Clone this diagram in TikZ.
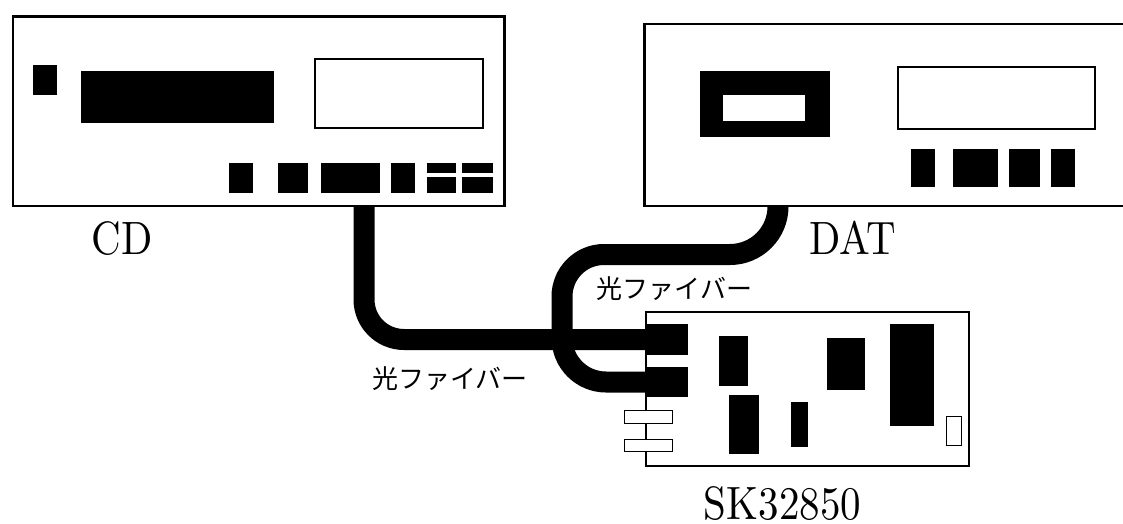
\documentclass[tikz,border=0pt]{standalone}
\usepackage{fontspec}
\newfontfamily\jpfont{Noto Sans CJK JP}
\newfontfamily\cmfont{lmroman10-regular.otf}
\begin{document}
\begin{tikzpicture}[x=1pt,y=-1pt,
  panel/.style={draw, line width=2.6pt, inner sep=0pt, outer sep=0pt, anchor=north west},
  board/.style={draw, line width=2pt, inner sep=0pt, outer sep=0pt, anchor=north west},
  plug/.style={fill=black, inner sep=0pt, outer sep=0pt, anchor=north west},
  cable/.style={line width=21pt, line cap=butt},
  window/.style={draw, line width=2pt},
  pad/.style={draw, fill=white, line width=1.5pt},
  devname/.style={inner sep=0pt, anchor=base, font=\cmfont\fontsize{41}{48}\selectfont},
  fibre/.style={inner sep=0pt, anchor=base, font=\jpfont\fontsize{26}{30}\selectfont}]
\useasboundingbox (0,0) rectangle (1123,524);
\clip (0,0) rectangle (1123,524);

% devices
\node[panel, minimum width=491.5pt, minimum height=189.5pt] (cd) at (13,16.3) {};
\node[panel, minimum width=500pt, minimum height=182pt] (dat) at (644.7,24) {};
\node[board, minimum width=323pt, minimum height=154pt] (sk) at (646,312) {};

% optical connectors on the board
\node[plug, minimum width=43pt, minimum height=31pt] (conA) at (645,324) {};
\node[plug, minimum width=43pt, minimum height=30pt] (conB) at (645,367) {};

% cable ports
\coordinate (cdport) at (364,206);
\coordinate (datport) at (778,206);

% fibre cables
\draw[cable, rounded corners=40pt] (cdport) |- (conA.west);
\draw[cable] (datport) [rounded corners=48pt] -- (778,254.5)
  [rounded corners=42pt] -- (562,254.5)
  [rounded corners=44pt] -- (562,382) -- (conB.west);

% CD front panel
\fill (33,65) rectangle (57,95);
\fill (81,71) rectangle (274,123);
\draw[window] (315,59) rectangle (483,128);
\fill (229,163) rectangle (253,193);
\fill (278,163) rectangle (308,193);
\fill (321,163) rectangle (380,193);
\fill (391,163) rectangle (415,193);
\fill (427,163) rectangle (456,173);
\fill (427,177) rectangle (456,193);
\fill (462,163) rectangle (493,173);
\fill (462,177) rectangle (493,193);

% DAT front panel
\fill (700,71) rectangle (830,137);
\fill[white] (723,95) rectangle (805,121);
\draw[window] (898,67) rectangle (1095,129);
\fill (911,149) rectangle (935,187);
\fill (953,149) rectangle (998,187);
\fill (1009,149) rectangle (1040,187);
\fill (1051,149) rectangle (1075,187);

% board components
\fill (719,336) rectangle (748,386);
\fill (729,395) rectangle (759,454);
\fill (791,402) rectangle (808,447);
\fill (827,338) rectangle (865,390);
\fill (890,324) rectangle (934,426);
\draw[line width=1.5pt] (946.5,416.5) rectangle (961.5,445.5);
\draw[pad] (624.5,410.5) rectangle (672.5,423.5);
\draw[pad] (624.5,439.5) rectangle (672.5,451.5);

% labels
\node[devname] (cdlabel) at (122,254.5) {\scalebox{1}[1.14]{CD}};
\node[devname] (datlabel) at (853,254.5) {\scalebox{1}[1.14]{DAT}};
\node[devname] (sklabel) at (782.5,519.5) {\scalebox{1}[1.14]{SK32850}};
\node[fibre] (fibre1) at (450,388) {光ファイバー};
\node[fibre] (fibre2) at (674.5,298) {光ファイバー};
\end{tikzpicture}
\end{document}
